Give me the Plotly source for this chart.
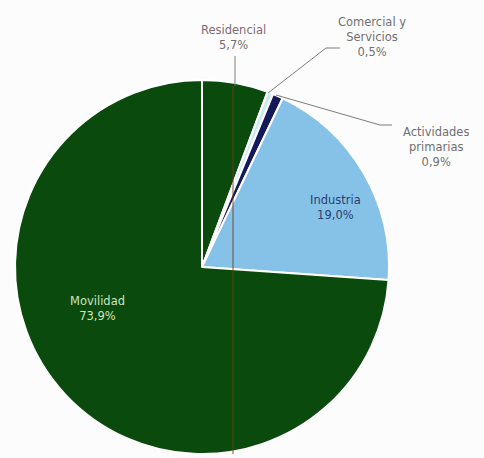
import plotly.graph_objects as go

# Emission shares by sector (%)
sectors = ["Residencial", "Comercial y Servicios", "Actividades primarias", "Industria", "Movilidad"]
shares = [5.7, 0.5, 0.9, 19.0, 73.9]
colors = ["#0b4a0d", "#cfe9f2", "#14195a", "#86c2e8", "#0b4a0d"]

W, H = 484, 458
CX, CY, R = 202, 267, 187


def px(x):
    return x / W


def py(y):
    return 1 - y / H


def pct(v):
    return f"{v:.1f}".replace(".", ",") + "%"


fig = go.Figure(
    go.Pie(
        labels=sectors,
        values=shares,
        sort=False,
        direction="clockwise",
        rotation=0,
        marker=dict(colors=colors, line=dict(color="white", width=2)),
        textinfo="none",
        hoverinfo="label+percent",
        showlegend=False,
        domain=dict(x=[px(CX - R), px(CX + R)], y=[py(CY + R), py(CY - R)]),
    )
)

grey = "#707070"
font = dict(family="DejaVu Sans, sans-serif", size=11.5)

annotations = [
    dict(x=px(233), y=py(37), text=f"{sectors[0]}<br>{pct(shares[0])}",
         font=dict(color="#7d6a72", **font)),
    dict(x=px(372), y=py(37), text=f"Comercial y<br>Servicios<br>{pct(shares[1])}",
         font=dict(color=grey, **font)),
    dict(x=px(436), y=py(147), text=f"Actividades<br>primarias<br>{pct(shares[2])}",
         font=dict(color=grey, **font)),
    dict(x=px(335), y=py(207), text=f"{sectors[3]}<br>{pct(shares[3])}",
         font=dict(color="#2b3f72", **font)),
    dict(x=px(97), y=py(308), text=f"{sectors[4]}<br>{pct(shares[4])}",
         font=dict(color="#c9e4c2", **font)),
]
for a in annotations:
    a.update(xref="paper", yref="paper", showarrow=False, align="center",
             xanchor="center", yanchor="middle")

line_style = dict(color="#7d7d7d", width=1)
shapes = [
    # Residencial leader
    dict(type="line", x0=px(235), y0=py(56), x1=px(235), y1=py(86), line=line_style),
    # Comercial y Servicios leader
    dict(type="path",
         path=f"M {px(340)},{py(48)} L {px(326)},{py(48)} L {px(268)},{py(93)}",
         line=line_style),
    # Actividades primarias leader
    dict(type="path",
         path=f"M {px(276)},{py(95)} L {px(380)},{py(125)} L {px(392)},{py(125)}",
         line=line_style),
    # faint vertical line through the large slice
    dict(type="line", x0=px(233), y0=py(86), x1=px(233), y1=py(454),
         line=dict(color="rgba(120,55,15,0.85)", width=1)),
]
for s in shapes:
    s.update(xref="paper", yref="paper")

fig.update_layout(
    width=W,
    height=H,
    margin=dict(l=0, r=0, t=0, b=0),
    paper_bgcolor="#fcfcfc",
    plot_bgcolor="#fcfcfc",
    annotations=annotations,
    shapes=shapes,
)

fig.write_html("out.html")
